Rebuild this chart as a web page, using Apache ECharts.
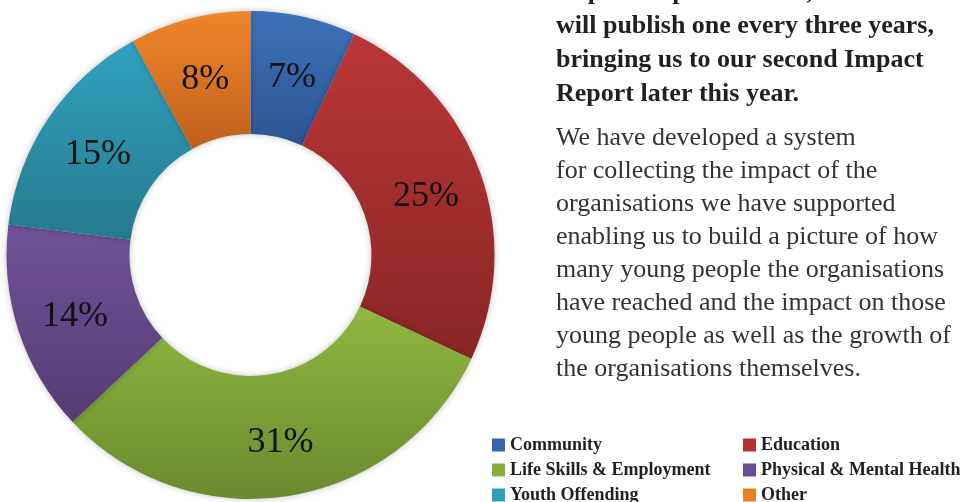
<!DOCTYPE html>
<html>
<head>
<meta charset="utf-8">
<script src="https://cdn.jsdelivr.net/npm/echarts@6/dist/echarts.min.js"></script>
<style>html,body{margin:0;padding:0;background:#fff;}#c{width:960px;height:502px;}</style>
</head>
<body>
<div id="c"></div>
<script>
var categories = ['Community', 'Education', 'Life Skills & Employment', 'Physical & Mental Health', 'Youth Offending', 'Other'];
var values = [7, 25, 31, 14, 15, 8];
var topColors = ['#3d72b9', '#b93636', '#8fb740', '#6f529a', '#31a2c0', '#f0862a'];
var bottomColors = ['#2b5592', '#8a2626', '#6b8a2f', '#553c72', '#267a8e', '#bf601c'];
var legendColors = ['#3366aa', '#b23232', '#8aae3e', '#6a4d94', '#2e9dba', '#e87e26'];
var headingLines = ['Impact Report in 2016, and we', 'will publish one every three years,', 'bringing us to our second Impact', 'Report later this year.'];
var bodyLines = ['We have developed a system', 'for collecting the impact of the', 'organisations we have supported', 'enabling us to build a picture of how', 'many young people the organisations', 'have reached and the impact on those', 'young people as well as the growth of', 'the organisations themselves.'];

var serif = "'Liberation Serif', 'DejaVu Serif', serif";
var pieData = categories.map(function (n, i) {
  return {
    name: n, value: values[i],
    itemStyle: {
      color: { type: 'linear', x: 0, y: 0, x2: 0, y2: 1, colorStops: [{ offset: 0, color: topColors[i] }, { offset: 1, color: bottomColors[i] }] }
    }
  };
});
function legendData(idx) {
  return idx.map(function (i) { return { name: categories[i], itemStyle: { color: legendColors[i] } }; });
}
var legendCommon = {
  orient: 'vertical', top: 436, padding: 0, height: 200, itemWidth: 13, itemHeight: 13, itemGap: 7, itemTextGap: 6,
  icon: 'rect', selectedMode: false,
  textStyle: { fontFamily: serif, fontSize: 18, fontWeight: 'bold', color: '#231f20', lineHeight: 13 }
};
var chart = echarts.init(document.getElementById('c'), null, { renderer: 'canvas' });
chart.setOption({
  animation: false,
  legend: [
    Object.assign({ left: 492, data: legendData([0, 2, 4]) }, legendCommon),
    Object.assign({ left: 743, data: legendData([1, 3, 5]) }, legendCommon)
  ],
  graphic: [
    { type: 'text', x: 556, y: -25, style: { text: headingLines.join('\n'), font: 'bold 26px ' + serif, lineHeight: 34, fill: '#231f20', verticalAlign: 'top' } },
    { type: 'text', x: 556, y: 122, style: { text: bodyLines.join('\n'), font: '26px ' + serif, lineHeight: 33, fill: '#333333', verticalAlign: 'top' } }
  ],
  series: [{
    type: 'pie',
    center: [250.5, 255],
    radius: [121, 244],
    startAngle: 90,
    clockwise: true,
    avoidLabelOverlap: false,
    label: {
      show: true, position: 'inside', formatter: '{c}%', offset: [1, 4],
      fontFamily: serif, fontSize: 36, color: '#111111'
    },
    labelLine: { show: false },
    itemStyle: { borderWidth: 0, shadowBlur: 6, shadowColor: 'rgba(0,0,0,0.25)' },
    emphasis: { disabled: true },
    data: pieData
  }]
});
</script>
</body>
</html>
